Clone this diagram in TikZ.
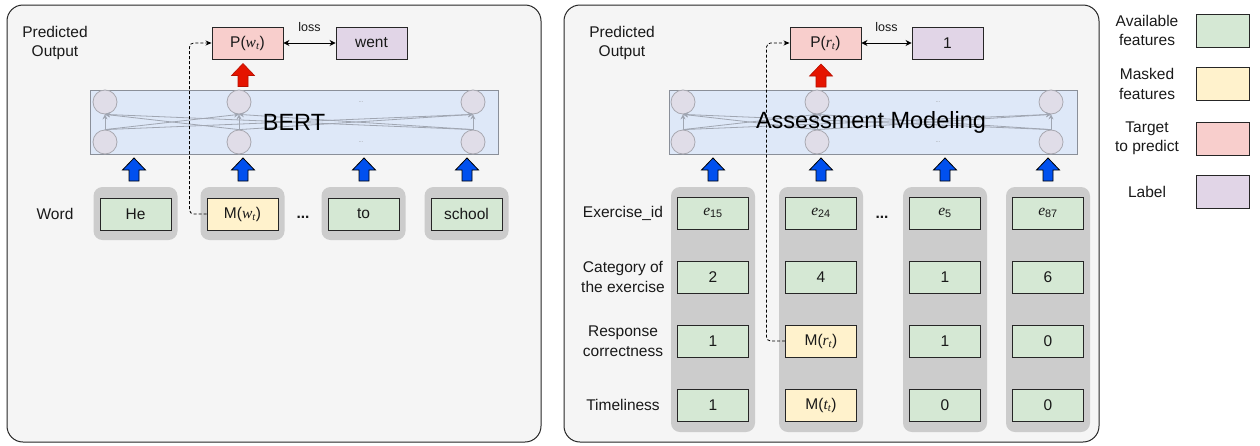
\documentclass[tikz,border=0pt]{standalone}
\usepackage{fontspec}
\setmainfont{Liberation Sans}
\newfontfamily\serifit{Liberation Serif}
\usetikzlibrary{arrows.meta}

\newcommand{\ivar}[2]{{\serifit\itshape #1}\textsubscript{#2}}

\definecolor{avail}{RGB}{213,232,212}
\definecolor{masked}{RGB}{255,242,204}
\definecolor{target}{RGB}{248,206,204}
\definecolor{labelc}{RGB}{225,213,231}
\definecolor{panelbg}{RGB}{245,245,245}
\definecolor{graycol}{RGB}{204,204,204}
\definecolor{modelbg}{RGB}{222,232,248}
\definecolor{boxgray}{RGB}{138,143,153}
\definecolor{neuronfill}{RGB}{224,221,232}
\definecolor{neurongray}{RGB}{168,168,176}
\definecolor{linkgray}{RGB}{160,166,178}
\definecolor{blockblue}{RGB}{0,80,239}
\definecolor{blockred}{RGB}{229,20,0}

\tikzset{
  txt/.style={font=\fontsize{15.5}{19.5}\selectfont, text=black!90, align=center, inner sep=0pt},
  smalltxt/.style={font=\fontsize{12.5}{14}\selectfont, text=black!90, inner sep=0pt},
  bigtxt/.style={font=\fontsize{23.5}{26}\selectfont, text=black, inner sep=0pt},
  dotstxt/.style={font=\fontsize{6}{6}\selectfont, text=black!40, inner sep=0pt},
  panel/.style={draw=black!85, line width=1pt, fill=panelbg, rounded corners=16pt},
  cell/.style={txt, draw=black!85, line width=0.9pt, minimum width=71pt, minimum height=32pt},
  colbg/.style={fill=graycol, rounded corners=9pt, minimum width=84pt, inner sep=0pt},
  modelbox/.style={draw=boxgray, line width=1pt, fill=modelbg, minimum width=408pt, minimum height=64pt, inner sep=0pt},
  neuron/.style={circle, draw=neurongray, line width=0.8pt, fill=neuronfill, minimum size=24pt, inner sep=0pt},
  link/.style={draw=linkgray, line width=0.8pt, -{Stealth[length=5pt,width=5pt]}},
  lossarrow/.style={black, line width=0.9pt, {Stealth[length=6pt,width=6pt]}-{Stealth[length=6pt,width=6pt]}},
  dashlink/.style={black, line width=0.8pt, dash pattern=on 3pt off 2pt, rounded corners=4pt, -{Stealth[length=6pt,width=5pt]}},
  legbox/.style={draw=black!85, line width=0.9pt, minimum width=53pt, minimum height=33pt, inner sep=0pt},
  bluearr/.style={fill=blockblue, draw=black, line width=0.8pt},
  redarr/.style={fill=blockred, draw=blockred!80!black, line width=0.6pt},
  uparr/.pic={\path[pic actions] (-5,-11.5) -- (-5,-0.5) -- (-11.5,-0.5) -- (0,11.5) -- (11.5,-0.5) -- (5,-0.5) -- (5,-11.5) -- cycle;},
}

\begin{document}
\begin{tikzpicture}[x=1pt,y=1pt,yscale=-1]
\useasboundingbox (0,0) rectangle (1260,445);

%Shape: Rounded Rect
\draw[panel] (7,5) rectangle (541,442);
\draw[panel] (564,5) rectangle (1099,442);

%%%% BERT side
% Text Node
\node[txt] (predL) at (55,43) {Predicted\\Output};
\node[cell, fill=target] (pw) at (247.5,43) {P(\ivar{w}{\serifit\itshape t})};
\node[cell, fill=labelc] (went) at (371.5,43) {went};
\node[smalltxt] (lossL) at (309.5,27) {loss};
\draw[lossarrow] (pw) -- (went);
\pic[redarr] at (243,75) {uparr};

%Shape: Rectangle
\node[modelbox] (bert) at (294.5,122) {};
\foreach \x [count=\i] in {105,239,473} {
  \node[neuron] (bt\i) at (\x,102) {};
  \node[neuron] (bb\i) at (\x,142) {};
}
\foreach \i in {1,2,3}
  \foreach \j in {1,2,3}
    \draw[link] (bb\i.north) -- (bt\j.south);
\node[dotstxt] (bdt) at (361,102) {...};
\node[dotstxt] (bdb) at (361,142) {...};
\node[bigtxt] (berttxt) at (294,122) {BERT};

\foreach \x in {134,243,364,467}
  \pic[bluearr] at (\x,169.5) {uparr};

% Text Node
\node[txt] (wordlbl) at (55,214) {Word};
\foreach \x/\w/\c [count=\i] in {135.5/He/avail, 242.5/M(\ivar{w}{\serifit\itshape t})/masked, 363.5/to/avail, 466.5/school/avail} {
  \node[colbg, minimum height=53pt] (wbg\i) at (\x,213.5) {};
  \node[cell, fill=\c] (w\i) at (\x,214) {\w};
}
\node[txt, font=\fontsize{15.5}{19.5}\selectfont\bfseries] (wdots) at (303,217) {...};

%Straight Lines
\draw[dashlink] (w2.west) -- ++(-17,0) |- (pw.west);

%%%% Assessment side
% Text Node
\node[txt] (predR) at (622,43) {Predicted\\Output};
\node[cell, fill=target] (pr) at (825.5,43) {P(\ivar{r}{\serifit\itshape t})};
\node[cell, fill=labelc] (one) at (947.5,43) {1};
\node[smalltxt] (lossR) at (886.5,27) {loss};
\draw[lossarrow] (pr) -- (one);
\pic[redarr] at (821,75.5) {uparr};

%Shape: Rectangle
\node[modelbox] (am) at (873,122) {};
\foreach \x [count=\i] in {683,817,1051} {
  \node[neuron] (at\i) at (\x,102) {};
  \node[neuron] (ab\i) at (\x,142) {};
}
\foreach \i in {1,2,3}
  \foreach \j in {1,2,3}
    \draw[link] (ab\i.north) -- (at\j.south);
\node[dotstxt] (adt) at (938,102) {...};
\node[dotstxt] (adb) at (938,142) {...};
\node[bigtxt] (amtxt) at (871,122) {Assessment Modeling};

\foreach \x in {713,821,945,1048}
  \pic[bluearr] at (\x,169.5) {uparr};

% feature names
\foreach \y/\t [count=\i] in {213/Exercise\_id, 277/{Category of\\the exercise}, 341/{Response\\correctness}, 405/Timeliness}
  \node[txt] (feat\i) at (623,\y) {\t};

\foreach \x [count=\j] in {713,821,945,1048}
  \node[colbg, minimum height=245pt] (col\j) at (\x,309.5) {};
\foreach \x/\a/\b [count=\j] in {713/15/2, 821/24/4, 945/5/1, 1048/87/6} {
  \node[cell, fill=avail] (e\j) at (\x,213) {\ivar{e}{\a}};
  \node[cell, fill=avail] (c\j) at (\x,277) {\b};
}
\foreach \x/\r/\t/\k in {713/1/1/1, 945/1/0/3, 1048/0/0/4} {
  \node[cell, fill=avail] (r\k) at (\x,341) {\r};
  \node[cell, fill=avail] (t\k) at (\x,405) {\t};
}
\node[cell, fill=masked] (r2) at (821,341) {M(\ivar{r}{\serifit\itshape t})};
\node[cell, fill=masked] (t2) at (821,405) {M(\ivar{t}{\serifit\itshape t})};
\node[txt, font=\fontsize{15.5}{19.5}\selectfont\bfseries] (edots) at (882,217) {...};

%Straight Lines
\draw[dashlink] (r2.west) -- ++(-18.5,0) |- (pr.west);

%%%% legend
\foreach \y/\t/\c [count=\i] in {30.5/{Available\\features}/avail, 84/{Masked\\features}/masked, 138.5/{Target\\to predict}/target, 191.5/Label/labelc} {
  \node[txt] (leg\i) at (1147,\y) {\t};
  \node[legbox, fill=\c] (key\i) at (1222.5,\y) {};
}
\end{tikzpicture}
\end{document}
